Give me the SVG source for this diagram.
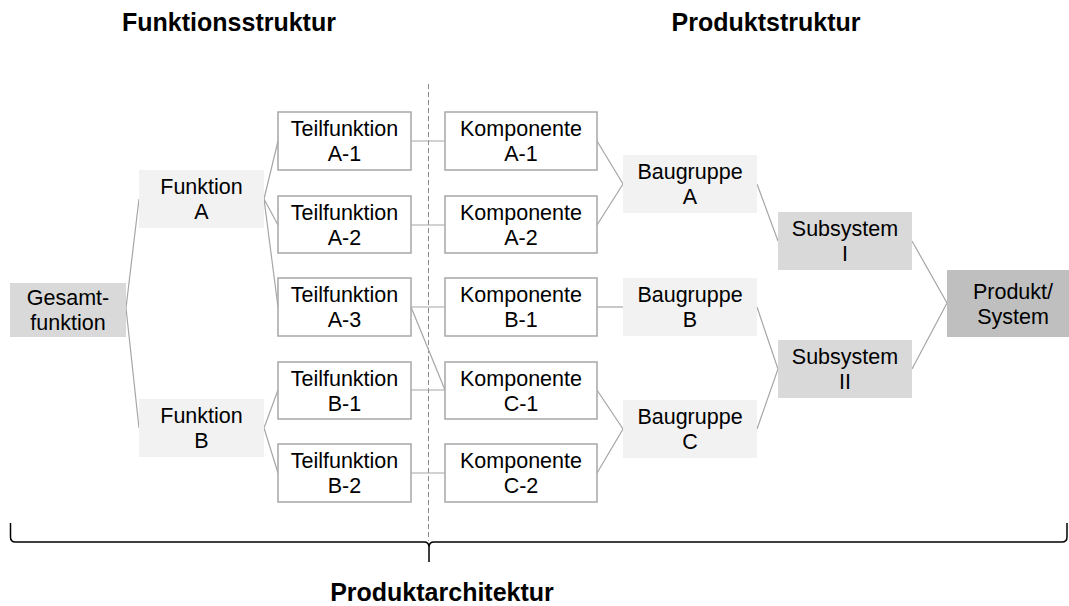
<svg xmlns="http://www.w3.org/2000/svg" width="1069" height="606" viewBox="0 0 1069 606">
  <style>
    .title { font-family: "Liberation Sans", Arial, sans-serif; font-size: 25px; font-weight: bold; fill: #000; text-anchor: middle; }
    .lbl { font-family: "Liberation Sans", Arial, sans-serif; font-size: 21.5px; fill: #000; text-anchor: middle; }
    .white { fill: #ffffff; stroke: #a6a6a6; stroke-width: 1.5; }
    .light { fill: #f2f2f2; }
    .mid { fill: #d9d9d9; }
    .dark { fill: #bfbfbf; }
    .conn { stroke: #a6a6a6; stroke-width: 1.2; fill: none; }
    .divider { stroke: #8c8c8c; stroke-width: 1; stroke-dasharray: 5 3; fill: none; }
    .brace { stroke: #000; stroke-width: 1.5; fill: none; }
  </style>

  <rect width="1069" height="606" fill="#ffffff"/>

  <!-- headings -->
  <text class="title" x="229" y="31">Funktionsstruktur</text>
  <text class="title" x="766" y="31">Produktstruktur</text>
  <text class="title" x="442" y="601">Produktarchitektur</text>

  <!-- boundary between function and product side -->
  <line class="divider" x1="428.5" y1="84" x2="428.5" y2="541"/>

  <!-- connectors -->
  <g id="connectors" class="conn">
    <polyline points="139,199 126,308 139,428"/>
    <polyline points="278,141 264,199 278,225"/>
    <line x1="264" y1="199" x2="278" y2="307"/>
    <polyline points="278,390 264,428 278,473"/>
    <line x1="411" y1="141" x2="445" y2="141"/>
    <line x1="411" y1="225" x2="445" y2="225"/>
    <line x1="411" y1="307" x2="445" y2="307"/>
    <line x1="411" y1="390" x2="445" y2="390"/>
    <line x1="411" y1="473" x2="445" y2="473"/>
    <line x1="411" y1="307" x2="445" y2="390"/>
    <polyline points="597,141 623,184 597,225"/>
    <line x1="597" y1="307" x2="623" y2="307"/>
    <polyline points="597,390 623,429 597,473"/>
    <line x1="757" y1="184" x2="778" y2="241"/>
    <polyline points="757,307 778,369 757,429"/>
    <polyline points="912,241 947,303 912,369"/>
  </g>

  <!-- function structure -->
  <g id="gesamtfunktion">
    <rect class="mid" x="10" y="283" width="116" height="54"/>
    <text class="lbl" x="68" y="305">Gesamt-</text>
    <text class="lbl" x="68" y="330">funktion</text>
  </g>
  <g id="funktion-a">
    <rect class="light" x="139" y="170" width="125" height="58"/>
    <text class="lbl" x="201.5" y="194">Funktion</text>
    <text class="lbl" x="201.5" y="219">A</text>
  </g>
  <g id="funktion-b">
    <rect class="light" x="139" y="399" width="125" height="58"/>
    <text class="lbl" x="201.5" y="423">Funktion</text>
    <text class="lbl" x="201.5" y="448">B</text>
  </g>
  <g id="teilfunktion-a1">
    <rect class="white" x="278" y="112" width="133" height="58"/>
    <text class="lbl" x="344.5" y="136">Teilfunktion</text>
    <text class="lbl" x="344.5" y="161">A-1</text>
  </g>
  <g id="teilfunktion-a2">
    <rect class="white" x="278" y="196" width="133" height="57"/>
    <text class="lbl" x="344.5" y="219.5">Teilfunktion</text>
    <text class="lbl" x="344.5" y="244.5">A-2</text>
  </g>
  <g id="teilfunktion-a3">
    <rect class="white" x="278" y="278" width="133" height="58"/>
    <text class="lbl" x="344.5" y="302">Teilfunktion</text>
    <text class="lbl" x="344.5" y="327">A-3</text>
  </g>
  <g id="teilfunktion-b1">
    <rect class="white" x="278" y="362" width="133" height="57"/>
    <text class="lbl" x="344.5" y="385.5">Teilfunktion</text>
    <text class="lbl" x="344.5" y="410.5">B-1</text>
  </g>
  <g id="teilfunktion-b2">
    <rect class="white" x="278" y="444" width="133" height="58"/>
    <text class="lbl" x="344.5" y="468">Teilfunktion</text>
    <text class="lbl" x="344.5" y="493">B-2</text>
  </g>

  <!-- product structure -->
  <g id="komponente-a1">
    <rect class="white" x="445" y="112" width="152" height="58"/>
    <text class="lbl" x="521" y="136">Komponente</text>
    <text class="lbl" x="521" y="161">A-1</text>
  </g>
  <g id="komponente-a2">
    <rect class="white" x="445" y="196" width="152" height="57"/>
    <text class="lbl" x="521" y="219.5">Komponente</text>
    <text class="lbl" x="521" y="244.5">A-2</text>
  </g>
  <g id="komponente-b1">
    <rect class="white" x="445" y="278" width="152" height="58"/>
    <text class="lbl" x="521" y="302">Komponente</text>
    <text class="lbl" x="521" y="327">B-1</text>
  </g>
  <g id="komponente-c1">
    <rect class="white" x="445" y="362" width="152" height="57"/>
    <text class="lbl" x="521" y="385.5">Komponente</text>
    <text class="lbl" x="521" y="410.5">C-1</text>
  </g>
  <g id="komponente-c2">
    <rect class="white" x="445" y="444" width="152" height="58"/>
    <text class="lbl" x="521" y="468">Komponente</text>
    <text class="lbl" x="521" y="493">C-2</text>
  </g>
  <g id="baugruppe-a">
    <rect class="light" x="623" y="155" width="134" height="58"/>
    <text class="lbl" x="690" y="179">Baugruppe</text>
    <text class="lbl" x="690" y="204">A</text>
  </g>
  <g id="baugruppe-b">
    <rect class="light" x="623" y="278" width="134" height="58"/>
    <text class="lbl" x="690" y="302">Baugruppe</text>
    <text class="lbl" x="690" y="327">B</text>
  </g>
  <g id="baugruppe-c">
    <rect class="light" x="623" y="400" width="134" height="58"/>
    <text class="lbl" x="690" y="424">Baugruppe</text>
    <text class="lbl" x="690" y="449">C</text>
  </g>
  <g id="subsystem-1">
    <rect class="mid" x="778" y="212" width="134" height="58"/>
    <text class="lbl" x="845" y="236">Subsystem</text>
    <text class="lbl" x="845" y="261">I</text>
  </g>
  <g id="subsystem-2">
    <rect class="mid" x="778" y="340" width="134" height="58"/>
    <text class="lbl" x="845" y="364">Subsystem</text>
    <text class="lbl" x="845" y="389">II</text>
  </g>
  <g id="produkt">
    <rect class="dark" x="947" y="270" width="130" height="67"/>
    <text class="lbl" x="1013" y="298.5">Produkt/</text>
    <text class="lbl" x="1013" y="323.5">System</text>
  </g>

  <!-- curly brace spanning the whole architecture -->
  <path class="brace" d="M10.5,523 L10.5,537 Q10.5,542 15.5,542 L424,542 Q429,542 429,547 L429,562 M429,562 L429,547 Q429,542 434,542 L1062,542 Q1067,542 1067,537 L1067,523"/>
</svg>
